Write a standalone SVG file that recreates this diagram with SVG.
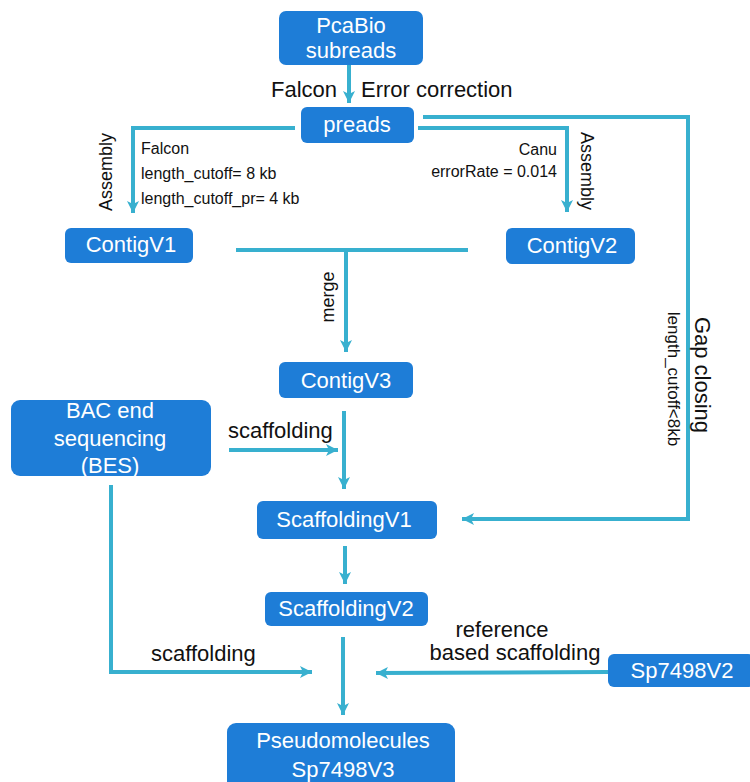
<svg xmlns="http://www.w3.org/2000/svg" width="750" height="782" viewBox="0 0 750 782">
<defs>
<marker id="ah" markerUnits="userSpaceOnUse" markerWidth="14" markerHeight="14" refX="12" refY="6" orient="auto">
<path d="M0,0 L12,6 L0,12 L3,6 z" fill="#38B0CF"/>
</marker>
</defs>
<style>
.box{fill:#1E7DD7;}
.nt{font-family:"Liberation Sans",Arial,sans-serif;font-size:22px;fill:#ffffff;text-anchor:middle;}
.lb{font-family:"Liberation Sans",Arial,sans-serif;font-size:22px;fill:#111111;}
.sm{font-family:"Liberation Sans",Arial,sans-serif;font-size:16px;fill:#111111;}
.ln{fill:none;stroke:#38B0CF;stroke-width:4;}
.ar{fill:none;stroke:#38B0CF;stroke-width:4;marker-end:url(#ah);}
</style>
<rect width="750" height="782" fill="#ffffff"/>
<g id="connectors">
<line class="ar" x1="349" y1="65" x2="349" y2="103"/>
<polyline class="ar" points="295,128 133,128 133,213"/>
<polyline class="ar" points="418,128 567,128 567,212"/>
<polyline class="ar" points="423,117 688,117 688,519 462,519"/>
<line class="ln" x1="236" y1="250" x2="468" y2="250"/>
<line class="ar" x1="346" y1="250" x2="346" y2="352"/>
<line class="ar" x1="344" y1="411" x2="344" y2="489"/>
<line class="ar" x1="229" y1="450" x2="338" y2="450"/>
<line class="ar" x1="345" y1="546" x2="345" y2="584"/>
<line class="ar" x1="343" y1="637" x2="343" y2="715"/>
<polyline class="ar" points="111,485 111,672 312,672"/>
<line class="ar" x1="608" y1="672" x2="376" y2="673"/>
</g>
<g id="labels">
<text class="lb" x="271" y="97">Falcon</text>
<text class="lb" x="361" y="97">Error correction</text>
<text class="lb" transform="translate(112,172) rotate(-90)" text-anchor="middle" style="font-size:18px">Assembly</text>
<text class="sm" x="141" y="154">Falcon</text>
<text class="sm" x="141" y="179">length_cutoff= 8 kb</text>
<text class="sm" x="141" y="204">length_cutoff_pr= 4 kb</text>
<text class="sm" x="557" y="155" text-anchor="end">Canu</text>
<text class="sm" x="557" y="177" text-anchor="end">errorRate = 0.014</text>
<text class="lb" transform="translate(581,171) rotate(90)" text-anchor="middle" style="font-size:18px">Assembly</text>
<text class="lb" transform="translate(334,297) rotate(-90)" text-anchor="middle" style="font-size:18px">merge</text>
<text class="lb" transform="translate(695,375) rotate(90)" text-anchor="middle" style="font-size:22px">Gap closing</text>
<text class="sm" transform="translate(668,379) rotate(90)" text-anchor="middle" style="font-size:17px">length_cutoff&lt;8kb</text>
<text class="lb" x="228" y="438">scaffolding</text>
<text class="lb" x="151" y="661">scaffolding</text>
<text class="lb" x="502" y="637" text-anchor="middle">reference</text>
<text class="lb" x="515" y="660" text-anchor="middle">based scaffolding</text>
</g>
<g id="n-pcabio"><rect class="box" x="279" y="11" width="144" height="54" rx="7"/><text class="nt" x="351" y="33">PcaBio</text><text class="nt" x="351" y="58">subreads</text></g>
<g id="n-preads"><rect class="box" x="301" y="107" width="113" height="36" rx="6"/><text class="nt" x="357" y="132">preads</text></g>
<g id="n-contigv1"><rect class="box" x="65" y="228" width="128" height="35" rx="6"/><text class="nt" x="131" y="252">ContigV1</text></g>
<g id="n-contigv2"><rect class="box" x="506" y="228" width="129" height="36" rx="6"/><text class="nt" x="572" y="253">ContigV2</text></g>
<g id="n-contigv3"><rect class="box" x="279" y="362" width="134" height="36" rx="6"/><text class="nt" x="346" y="388">ContigV3</text></g>
<g id="n-bes"><rect class="box" x="11" y="400" width="200" height="76" rx="9"/><text class="nt" x="110" y="418">BAC end</text><text class="nt" x="110" y="446">sequencing</text><text class="nt" x="110" y="473">(BES)</text></g>
<g id="n-scaffv1"><rect class="box" x="257" y="501" width="180" height="38" rx="6"/><text class="nt" x="344" y="527">ScaffoldingV1</text></g>
<g id="n-scaffv2"><rect class="box" x="265" y="592" width="163" height="34" rx="6"/><text class="nt" x="346" y="616">ScaffoldingV2</text></g>
<g id="n-sp7498v2"><rect class="box" x="608" y="654" width="146" height="33" rx="6"/><text class="nt" x="682" y="678">Sp7498V2</text></g>
<g id="n-pseudo"><rect class="box" x="227" y="723" width="228" height="70" rx="9"/><text class="nt" x="343" y="748">Pseudomolecules</text><text class="nt" x="343" y="777">Sp7498V3</text></g>
</svg>
